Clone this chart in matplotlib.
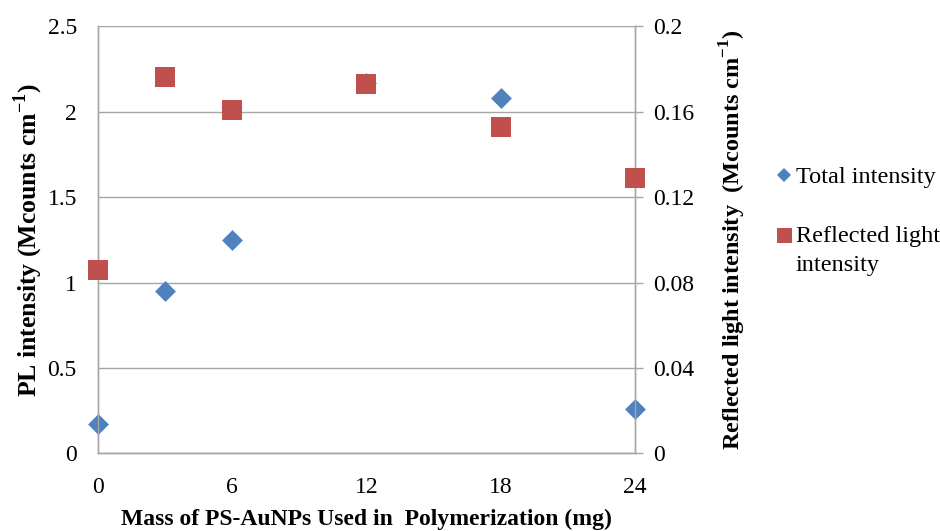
import matplotlib
matplotlib.use("Agg")
import matplotlib.pyplot as plt
from matplotlib.lines import Line2D
from matplotlib.legend_handler import HandlerLine2D

plt.rcParams['font.family'] = ['Liberation Serif', 'DejaVu Serif']
plt.rcParams['mathtext.fontset'] = 'custom'
plt.rcParams['mathtext.rm'] = 'Liberation Serif'
plt.rcParams['mathtext.bf'] = 'Liberation Serif:bold'

# Data
mass_mg = [0, 3, 6, 12, 18, 24]
total_intensity = [0.17, 0.95, 1.25, 2.17, 2.08, 0.26]          # left axis
reflected_intensity = [0.086, 0.176, 0.161, 0.173, 0.153, 0.129]  # right axis

x_ticks = [0, 6, 12, 18, 24]
left_ticks = [0, 0.5, 1, 1.5, 2, 2.5]
left_tick_labels = ['0', '0.5', '1', '1.5', '2', '2.5']
right_ticks = [0, 0.04, 0.08, 0.12, 0.16, 0.2]
right_tick_labels = ['0', '0.04', '0.08', '0.12', '0.16', '0.2']

blue = '#4F81BD'
red = '#C0504D'
grey = '#A6A6A6'
TICK_FS = 17


class FirstLineHandler(HandlerLine2D):
    """Place the legend marker level with the first line of a two-line label."""

    def __init__(self, shift, **kw):
        super().__init__(**kw)
        self.shift = shift

    def create_artists(self, legend, orig_handle, xdescent, ydescent,
                       width, height, fontsize, trans):
        arts = super().create_artists(legend, orig_handle, xdescent, ydescent,
                                      width, height, fontsize, trans)
        for a in arts:
            x, y = a.get_data()
            a.set_data(x, [v + self.shift for v in y])
        return arts


fig = plt.figure(figsize=(9.4, 5.31), dpi=100)
ax = fig.add_axes([0.1039, 0.146, 0.5716, 0.8047])
ax2 = ax.twinx()

ax.set_xlim(0, 24)
ax.set_ylim(0, 2.5)
ax2.set_ylim(0, 0.2)

ax.set_xticks(x_ticks)
ax.set_yticks(left_ticks)
ax.set_yticklabels(left_tick_labels)
ax2.set_yticks(right_ticks)
ax2.set_yticklabels(right_tick_labels)

ax.yaxis.grid(True, color=grey, linewidth=1.0)
ax.set_axisbelow(True)

for a in (ax, ax2):
    a.spines['top'].set_visible(False)
    for s in ('left', 'right', 'bottom'):
        a.spines[s].set_color(grey)
        a.spines[s].set_linewidth(1.0)

ax.tick_params(axis='x', length=0, pad=17, labelsize=TICK_FS)
ax.tick_params(axis='y', length=0, pad=15, labelsize=TICK_FS)
ax2.tick_params(axis='y', length=6, width=1.0, color=grey, pad=7,
                labelsize=TICK_FS)

ax.scatter(mass_mg, total_intensity, marker='D', s=15 ** 2 * 0.5, color=blue,
           zorder=3, clip_on=False, linewidths=0)
ax2.scatter(mass_mg, reflected_intensity, marker='s', s=14.5 ** 2, color=red,
            zorder=4, clip_on=False, linewidths=0)

ax.set_xlabel('Mass of PS-AuNPs Used in  Polymerization (mg)', fontsize=17,
              fontweight='bold', labelpad=8)
ax.set_ylabel(r'PL intensity (Mcounts cm$^{\mathbf{-1}}$)', fontsize=18.5,
              fontweight='bold', labelpad=2)
ax2.set_ylabel(r'Reflected light intensity  (Mcounts cm$^{\mathbf{-1}}$)',
               fontsize=17.5, fontweight='bold', labelpad=17)

LEG_FS = 17.5
diamond_handle = Line2D([], [], marker='D', linestyle='none', color=blue,
                        markersize=7.6, markeredgewidth=0)
square_handle = Line2D([], [], marker='s', linestyle='none', color=red,
                       markersize=10.8, markeredgewidth=0)
leg = fig.legend([diamond_handle, square_handle],
                 ['Total intensity', 'Reflected light\nintensity'],
                 loc='upper left', bbox_to_anchor=(0.8145, 0.705),
                 frameon=False, fontsize=LEG_FS, handlelength=0.75,
                 handletextpad=0.1, labelspacing=1.55, borderaxespad=0,
                 handler_map={square_handle: FirstLineHandler(0.62 * LEG_FS)})
leg.get_texts()[1].set_linespacing(1.5)

fig.savefig('out.png', dpi=100)
